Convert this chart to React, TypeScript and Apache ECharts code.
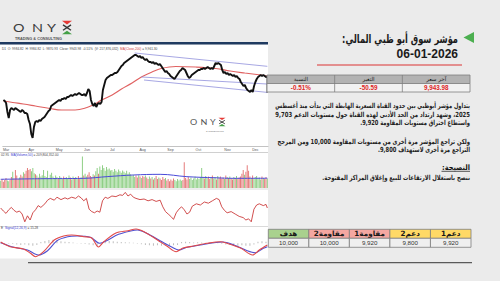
import React, { useEffect, useRef } from "react";
import * as echarts from "echarts";

// ---------- DATA ----------
const closes: number[] = [
  9576, 9560, 9528, 9384, 9288, 9416, 9448, 9432, 9416, 9448,
  9432, 9416, 9400, 9384, 9416, 9400, 9368, 9368, 9352, 9256, 9192, 9032, 8968, 9144, 9224,
  9240, 9224, 9256, 9240, 9272, 9288, 9304, 9336, 9368, 9400, 9416, 9480, 9496, 9512, 9528,
  9544, 9560, 9576, 9560, 9592, 9592, 9608, 9592, 9624, 9624,
  9640, 9656, 9640, 9656, 9672, 9656, 9672, 9688, 9672, 9656,
  9656, 9672, 9640, 9688, 9752, 9720, 9576, 9512, 9480, 9528, 9464, 9512, 9528, 9512, 9544,
  9736, 9816, 9896, 9928, 9944, 9960, 9976, 9976, 9992, 10008, 10008,
  10024, 10056, 10088, 10120, 10136, 10168, 10184, 10200, 10216,
  10232, 10248, 10264, 10280, 10296, 10296, 10280, 10264, 10280,
  10248, 10264, 10232, 10216, 10232, 10200, 10184,
  10184, 10168, 10184, 10152, 10168, 10152, 10136, 10152, 10120,
  10088, 10056, 10024, 10040, 10008, 9992, 9960, 9944, 9928, 9912, 9944,
  9976, 10008, 10040, 10056, 10088, 10072, 10056, 10008, 9960, 9928, 9944, 9976,
  9992, 10008, 10024, 10040, 10056, 10056,
  10072, 10072, 10088, 10072, 10088, 10104, 10088, 10072, 10088, 10072,
  10120, 10168, 10152, 10168, 10152, 10136, 10056, 10008, 10024, 9992, 10008, 9976,
  9992, 9976, 9960, 9976, 9944, 9960, 9928, 9912, 9864, 9832, 9800, 9816, 9768, 9736,
  9720, 9704, 9736, 9704, 9800, 9864, 9912, 9944,
  9960, 9976, 9960, 9976, 9960, 9944, 9944,
];

const ma200: [number, number][] = [
  [0, 9560], [7, 9536], [15, 9512], [24, 9480], [35, 9440], [44, 9416], [54, 9416],
  [63, 9456], [69, 9512], [74, 9576], [82, 9656], [89, 9752], [97, 9848], [104, 9944],
  [112, 10024], [119, 10080], [130, 10112], [145, 10104], [160, 10080], [171, 10040],
  [182, 10008], [194, 9976], [199, 9960],
];

const channelTop: [number, number][] = [[99, 10328], [199, 10115]];
const channelMid: [number, number][] = [[104, 9944], [199, 9832]];
const channelLow: [number, number][] = [[106, 9896], [199, 9698]];

// volume in millions
const volumes: number[] = [
  150, 190, 130, 170, 210, 160, 140, 180,
  230, 340, 200, 380, 260, 190, 220,
  280, 240, 330, 300, 360, 420, 380, 400, 350, 420, 310, 290,
  260, 220, 300, 240, 270, 380, 250, 230, 360, 200, 280, 320, 240, 210, 260,
  230, 200, 250, 220, 190, 240, 210, 230, 200, 260, 220, 180, 240, 210, 230, 200, 250, 190, 220,
  660,
  260, 300, 240, 280, 330, 250, 230, 290, 260,
  350, 420, 300, 450, 380, 480, 420, 360, 440, 390, 410, 370,
  380, 340, 400, 360, 330, 390, 350, 320, 370, 340, 310, 360, 300, 330, 290,
  250, 280, 230, 260, 220, 270, 240, 210, 250, 230, 260,
  220, 190, 240, 200, 230, 180, 210, 250, 190, 220, 200, 170, 230, 190, 210,
  160, 190, 140, 180, 150, 200, 170, 140, 190, 160, 180, 150, 170,
  540,
  210, 180, 230, 190, 220, 170, 200, 240, 180, 210, 190, 230,
  420,
  230, 200, 250, 210, 240, 190, 220, 260, 200, 230, 180, 250, 210, 240, 200, 220, 190, 260, 230, 210,
  240, 200, 180, 230, 210, 250, 190, 220, 240,
  300, 380, 280, 340, 480,
  360,
  240, 210, 260, 190, 230, 250, 200, 220, 180, 240, 210, 190, 230, 200,
];

const volumeMa: [number, number][] = [
  [0, 183], [30, 195], [62, 203], [80, 240], [99, 273], [119, 287], [139, 238],
  [160, 215], [174, 203], [199, 205],
];

const rsi: [number, number][] = [
  [0, 50], [2, 45], [4, 41], [6, 47], [8, 51], [10, 46], [12, 43], [14, 45], [16, 40],
  [18, 27], [20, 37], [22, 30], [24, 42], [26, 47], [28, 54], [30, 51], [33, 57], [35, 63],
  [37, 66], [40, 63], [42, 68], [45, 64], [48, 67], [50, 65], [53, 68], [56, 66], [58, 70],
  [60, 67], [62, 62], [64, 66], [66, 48], [68, 44], [70, 42], [72, 45], [74, 43], [76, 62],
  [78, 68], [80, 66], [83, 70], [86, 69], [89, 72], [91, 71], [93, 76], [95, 70], [97, 73],
  [99, 68], [101, 66], [104, 64], [107, 65], [110, 62], [113, 64], [116, 61], [119, 63],
  [121, 52], [123, 44], [125, 40], [127, 36], [129, 31], [131, 42], [133, 48], [135, 52],
  [137, 47], [139, 40], [141, 43], [143, 53], [146, 57], [149, 55], [152, 60], [155, 58],
  [158, 62], [161, 66], [163, 64], [165, 52], [167, 46], [169, 42], [172, 44], [175, 40],
  [178, 36], [181, 34], [183, 30], [185, 32], [187, 27], [189, 48], [191, 55], [193, 57],
  [196, 54], [198, 56], [199, 50],
];

const macd: [number, number][] = [
  [0, 6.5], [7, -17], [17, -28.5], [22, -48.5], [26, -67], [32, -42], [40, 16.5], [47, 36.5],
  [53, 41.5], [62, 33], [68, 26.5], [73, -18.5], [77, 8], [86, 51.5], [95, 63], [101, 71.5],
  [107, 58], [117, 16.5], [124, -13.5], [131, -42], [136, -23.5], [144, -13.5], [154, 0],
  [164, 8], [169, 0], [179, -23.5], [188, -58.5], [193, -33.5], [199, -8.5],
];

const signal: [number, number][] = [
  [0, 3], [10, -20], [20, -33.5], [28, -58.5], [35, -37], [42, 13], [50, 33], [57, 36.5],
  [67, 30], [74, 0], [79, 13], [88, 45], [97, 61.5], [102, 66.5], [109, 50], [119, 13],
  [128, -20], [133, -33.5], [139, -20], [149, -8.5], [159, 3], [166, 6.5], [174, -8.5],
  [184, -37], [190, -47], [196, -25], [199, -17],
];

const histStep = 3;
const histogram: number[] = [
  3, 2, -2, -4, -6, -8, -6, -10, -12, -8, 6, 12, 16, 18, 14, 10, 8, 6, 4, 2,
  -2, -4, -6, -10, -14, -6, 10, 12, 10, 8, 6, 5, 4, 3, -2, -5, -8, -10, -12, -10,
  -12, -10, -12, -10, -8, 6, 8, 6, 4, 5, 4, 3, 3, 2, 3, -4, -6, -8, -10, -12,
  -10, -12, -12, -6, 8, 10, 8,
];

const monthLabels = ["Mar", "Apr", "May", "Jun", "Jul", "Aug", "Sep", "Oct", "Nov", "Dec"];
const monthStarts = [2, 21, 42, 63, 82, 105, 126, 147, 169, 190];

const quoteHeaders = ["النسبة", "التغير", "آخر سعر"];
const quoteValues = ["-0.51%", "-50.59", "9,943.98"];

const levelNames = ["هدف", "مقاومة2", "مقاومة1", "دعم2", "دعم1"];
const levelValues = ["10,000", "10,000", "9,920", "9,800", "9,920"];

const titleText = "مؤشر سوق أبو ظبي المالي:";
const dateText = "06-01-2026";
const paragraph1 = [
  "يتداول مؤشر أبوظبي بين حدود القناة السعرية الهابطة التي بدأت منذ أغسطس",
  "2025، وشهد ارتداد من الحد الأدنى لهذه القناة حول مستويات الدعم 9,703",
  "واستطاع اختراق مستويات المقاومة 9,920.",
];
const paragraph2 = [
  "ولكن تراجع المؤشر مرة أخرى من مستويات المقاومة 10,000 ومن المرجح",
  "التراجع مرة أخرى لاستهداف 9,800.",
];
const adviceTitle = "النصيحة:";
const adviceText = "ننصح باستغلال الارتفاعات للبيع وإغلاق المراكز المفتوحة.";

// ---------- STYLE / LAYOUT ----------
const levelFills = ["#a9d18e", "#f4a7a1", "#f4a7a1", "#ffd966", "#ffd966"];
const RED_VOL = "#e57b7b";
const GREEN_VOL = "#8fcf86";
const AR_FONT = "DejaVu Sans";
const P1_WIDTHS = [195, 195, 110];
const P2_WIDTHS = [193, 92];
const ADVICE_WIDTH = 148;
const ADVICE_TITLE_WIDTH = 28;
const TITLE_WIDTH = 116;

const rtl = (s: string) => "\u202B" + s + "\u202C";

let measureCtx: CanvasRenderingContext2D | null = null;
function measure(text: string, size: number, weight: string, family: string) {
  if (!measureCtx) measureCtx = document.createElement("canvas").getContext("2d");
  if (!measureCtx) return 100;
  measureCtx.font = `${weight} ${size}px "${family}"`;
  return measureCtx.measureText(text).width || 100;
}

function txt(x: number, y: number, text: string, size: number, o: any = {}) {
  return {
    type: "text",
    x,
    y,
    z: o.z ?? 10,
    silent: true,
    scaleX: o.scaleX ?? 1,
    style: {
      text,
      fill: o.color ?? "#222",
      fontSize: size,
      fontFamily: o.family ?? AR_FONT,
      fontWeight: o.weight ?? "normal",
      textAlign: o.align ?? "left",
      textVerticalAlign: "middle",
      rich: o.rich,
    },
  };
}
function fitText(xRight: number, y: number, text: string, size: number, width: number, color = "#1e1e1e") {
  const w = measure(text, size, "bold", AR_FONT);
  return txt(xRight, y, text, size, { weight: "bold", align: "right", color, scaleX: width / w });
}
function rect(x: number, y: number, w: number, h: number, fill: string, stroke?: string, z = 5) {
  return {
    type: "rect",
    z,
    silent: true,
    shape: { x, y, width: w, height: h },
    style: { fill, stroke: stroke ?? "none", lineWidth: stroke ? 0.8 : 0 },
  };
}
function line(x1: number, y1: number, x2: number, y2: number, stroke: string, w = 1, z = 5) {
  return { type: "line", z, silent: true, shape: { x1, y1, x2, y2 }, style: { stroke, lineWidth: w } };
}
function logoX(x0: number, y0: number, w: number, h: number, z = 10) {
  return [
    { type: "polygon", z, silent: true, shape: { points: [[x0, y0], [x0 + w, y0], [x0 + w / 2, y0 + h * 0.27]] }, style: { fill: "#e53935" } },
    line(x0 + w * 0.1, y0 + h * 0.3, x0 + w * 0.9, y0 + h * 0.7, "#333", Math.max(0.8, w * 0.13), z),
    line(x0 + w * 0.9, y0 + h * 0.3, x0 + w * 0.1, y0 + h * 0.7, "#333", Math.max(0.8, w * 0.13), z),
    { type: "polygon", z, silent: true, shape: { points: [[x0, y0 + h], [x0 + w, y0 + h], [x0 + w / 2, y0 + h * 0.73]] }, style: { fill: "#43a047" } },
  ];
}

function buildGraphics() {
  const g: any[] = [];
  // white chart panel
  g.push(rect(0, 44.5, 268, 214, "#ffffff", undefined, 0));
  // navy band
  g.push(rect(0, 42, 268, 2.6, "#1f3a60", undefined, 1));
  // logo
  g.push(txt(13, 27, "O", 12, { family: "Lato", color: "#3c3c3c", scaleX: 1.2 }));
  g.push(txt(32, 27, "N", 12, { family: "Lato", color: "#3c3c3c", scaleX: 1.2 }));
  g.push(txt(47, 27, "Y", 12, { family: "Lato", color: "#3c3c3c", scaleX: 1.2 }));
  g.push(...logoX(62, 20.8, 10, 13.5));
  g.push(txt(15, 39, "TRADING & CONSULTING", 3.8, { family: "Liberation Sans", color: "#555", weight: "bold" }));
  // watermark
  g.push(txt(190, 122, "O", 7.5, { family: "Lato", color: "#555", scaleX: 1.2, z: 1 }));
  g.push(txt(200.5, 122, "N", 7.5, { family: "Lato", color: "#555", scaleX: 1.2, z: 1 }));
  g.push(txt(210, 122, "Y", 7.5, { family: "Lato", color: "#555", scaleX: 1.2, z: 1 }));
  g.push(...logoX(218.5, 117.8, 7, 8.5, 1));
  g.push(txt(206, 131, "& CONSULTING", 2.4, { family: "Liberation Sans", color: "#777", z: 1 }));
  // pane labels
  const richSet = (c: string) => ({
    a: { fill: "#444", color: "#444", fontSize: 3.2, fontFamily: "Liberation Sans" },
    b: { fill: c, color: c, fontSize: 3.2, fontFamily: "Liberation Sans" },
  });
  g.push(
    txt(2, 48.5, "{a|D1  O: 9984.82  H: 9984.82  L: 9870.93  Close: 9943.98  -0.51%  (V: 217,876,032)  }{b|MA(Close,200)}{a| = 9,961.30}", 3.2, {
      family: "Liberation Sans", rich: richSet("#d04040"),
    })
  );
  g.push(txt(1, 154.6, "{a|02.95  }{b|MA(Volume,50)}{a| = 209,804,352.00}", 3.2, { family: "Liberation Sans", rich: richSet("#3a3ad0") }));
  g.push(txt(1, 227.6, "{a|E  }{b|Signal(12,26,9)}{a| = 15.28}", 3.2, { family: "Liberation Sans", rich: richSet("#3a3ad0") }));
  // separators
  g.push(line(0, 152.5, 268, 152.5, "#c4c4c4", 0.8, 1));
  g.push(line(0, 189, 268, 189, "#d0d0d0", 0.8, 1));
  g.push(line(0, 226.5, 268, 226.5, "#d0d0d0", 0.8, 1));
  g.push(line(267, 75, 267, 93, "#444", 0.8, 6));
  // bottom rule
  g.push(line(28, 262.6, 472, 262.6, "#5a5a5a", 1.2, 5));

  // title block
  g.push({ type: "polygon", z: 10, silent: true, shape: { points: [[474, 32], [474, 43], [463.5, 37.5]] }, style: { fill: "#4caf50" } });
  g.push(fitText(458, 39, rtl(titleText), 11.5, TITLE_WIDTH, "#1a1a1a"));
  g.push(txt(458, 54, dateText, 12, { weight: "bold", align: "right", color: "#1a1a1a", family: "Liberation Sans" }));
  g.push(line(317, 65, 462, 65, "#e07070", 1.3, 10));

  // quote table
  const t1x = 267, t1w = 203, cw1 = t1w / 3;
  g.push(rect(t1x, 75, t1w, 8.5, "#b3b3b3", "#7f7f7f", 6));
  g.push(rect(t1x, 83.5, t1w, 8.5, "#f2f2f2", "#7f7f7f", 6));
  for (let i = 1; i < 3; i++) g.push(line(t1x + cw1 * i, 75, t1x + cw1 * i, 92, "#7f7f7f", 0.8, 7));
  quoteHeaders.forEach((h, i) => g.push(txt(t1x + cw1 * (i + 0.5), 79.3, rtl(h), 5.5, { align: "center", color: "#222" })));
  quoteValues.forEach((v, i) => g.push(txt(t1x + cw1 * (i + 0.5), 87.8, v, 6.3, { align: "center", color: "#e02424", weight: "bold", family: "Liberation Sans" })));

  // paragraphs
  const px = 470;
  const p1y = [105, 114, 122.5];
  paragraph1.forEach((s, i) => g.push(fitText(px, p1y[i], rtl(s), 7, P1_WIDTHS[i])));
  const p2y = [141, 149.5];
  paragraph2.forEach((s, i) => g.push(fitText(px, p2y[i], rtl(s), 7, P2_WIDTHS[i])));
  g.push(fitText(px, 167, rtl(adviceTitle), 7.5, ADVICE_TITLE_WIDTH, "#111"));
  g.push(line(441.5, 171.3, 470, 171.3, "#111", 0.7, 10));
  g.push(fitText(px, 176.8, rtl(adviceText), 7, ADVICE_WIDTH));

  // levels table
  const t2x = 268.3, t2w = 202.7, cw2 = t2w / 5;
  levelNames.forEach((n, i) => {
    g.push(rect(t2x + cw2 * i, 229.3, cw2, 9, levelFills[i], "#7f7f7f", 6));
    g.push(rect(t2x + cw2 * i, 238.3, cw2, 9, "#efefef", "#7f7f7f", 6));
    g.push(txt(t2x + cw2 * (i + 0.5), 233.8, rtl(n), 7.2, { align: "center", weight: "bold", color: "#1a1a1a" }));
    g.push(txt(t2x + cw2 * (i + 0.5), 242.8, levelValues[i], 6.2, { align: "center", color: "#333", family: "Liberation Sans" }));
  });
  return g;
}

export default function App() {
  const ref = useRef<HTMLDivElement>(null);
  useEffect(() => {
    if (!ref.current) return;
    const chart = echarts.init(ref.current, undefined, { renderer: "svg" });
    const cats = closes.map((_, i) => String(i));
    const grids = [
      { left: 0, top: 50, width: 268, height: 96 },
      { left: 0, top: 156, width: 268, height: 32 },
      { left: 0, top: 190, width: 268, height: 36 },
      { left: 0, top: 228.3, width: 268, height: 30 },
    ];
    const option: any = {
      animation: false,
      backgroundColor: "#ebebeb",
      grid: grids,
      xAxis: grids.map((_, gi) => ({
        type: "category",
        gridIndex: gi,
        data: cats,
        boundaryGap: true,
        axisLine: { show: gi === 0, lineStyle: { color: "#b4b4b4", width: 0.8 } },
        axisTick: { show: false },
        splitLine: { show: false },
        axisLabel:
          gi === 0
            ? {
                show: true,
                interval: 0,
                margin: 1.6,
                fontSize: 3.6,
                color: "#555",
                fontFamily: "Liberation Sans",
                formatter: (v: string) => {
                  const k = monthStarts.indexOf(Number(v));
                  return k >= 0 ? monthLabels[k] : "";
                },
              }
            : { show: false },
      })),
      yAxis: [
        { type: "value", gridIndex: 0, min: 8840, max: 10376, show: false },
        { type: "value", gridIndex: 1, min: 0, max: 672, show: false },
        { type: "value", gridIndex: 2, min: 20, max: 80, show: false },
        { type: "value", gridIndex: 3, min: -75, max: 75, show: false },
      ],
      series: [
        {
          type: "line", xAxisIndex: 0, yAxisIndex: 0, data: ma200, symbol: "none", smooth: 0.4,
          lineStyle: { color: "#e06262", width: 1.2 }, z: 3,
        },
        ...[channelTop, channelMid, channelLow].map((d) => ({
          type: "line", xAxisIndex: 0, yAxisIndex: 0, data: d, symbol: "none",
          lineStyle: { color: "#9090dc", width: 0.8 }, z: 3,
        })),
        {
          type: "line", xAxisIndex: 0, yAxisIndex: 0, data: closes, symbol: "none",
          lineStyle: { color: "#111", width: 1.9 }, z: 4,
        },
        {
          type: "bar", xAxisIndex: 1, yAxisIndex: 1, barWidth: "75%",
          data: volumes.map((v, i) => ({
            value: v,
            itemStyle: { color: i > 0 && closes[i] < closes[i - 1] ? RED_VOL : GREEN_VOL },
          })),
          z: 2,
        },
        {
          type: "line", xAxisIndex: 1, yAxisIndex: 1, data: volumeMa, symbol: "none", smooth: 0.4,
          lineStyle: { color: "#4a4ad8", width: 1 }, z: 3,
        },
        {
          type: "line", xAxisIndex: 2, yAxisIndex: 2, data: rsi, symbol: "none",
          lineStyle: { color: "#cc3b3b", width: 0.9 }, z: 3,
        },
        {
          type: "bar", xAxisIndex: 3, yAxisIndex: 3, barWidth: 1,
          data: histogram.map((v, i) => [i * histStep, v]),
          itemStyle: { color: "#bdbdbd" }, z: 2,
        },
        {
          type: "line", xAxisIndex: 3, yAxisIndex: 3, data: signal, symbol: "none", smooth: 0.3,
          lineStyle: { color: "#5050d0", width: 1.1 }, z: 3,
        },
        {
          type: "line", xAxisIndex: 3, yAxisIndex: 3, data: macd, symbol: "none", smooth: 0.3,
          lineStyle: { color: "#e04848", width: 1.1 }, z: 4,
        },
      ],
      graphic: { elements: buildGraphics() },
    };
    chart.setOption(option);
    return () => chart.dispose();
  }, []);
  return (
    <div
      ref={ref}
      style={{ position: "fixed", left: 0, top: 0, width: 500, height: 281 }}
    />
  );
}
